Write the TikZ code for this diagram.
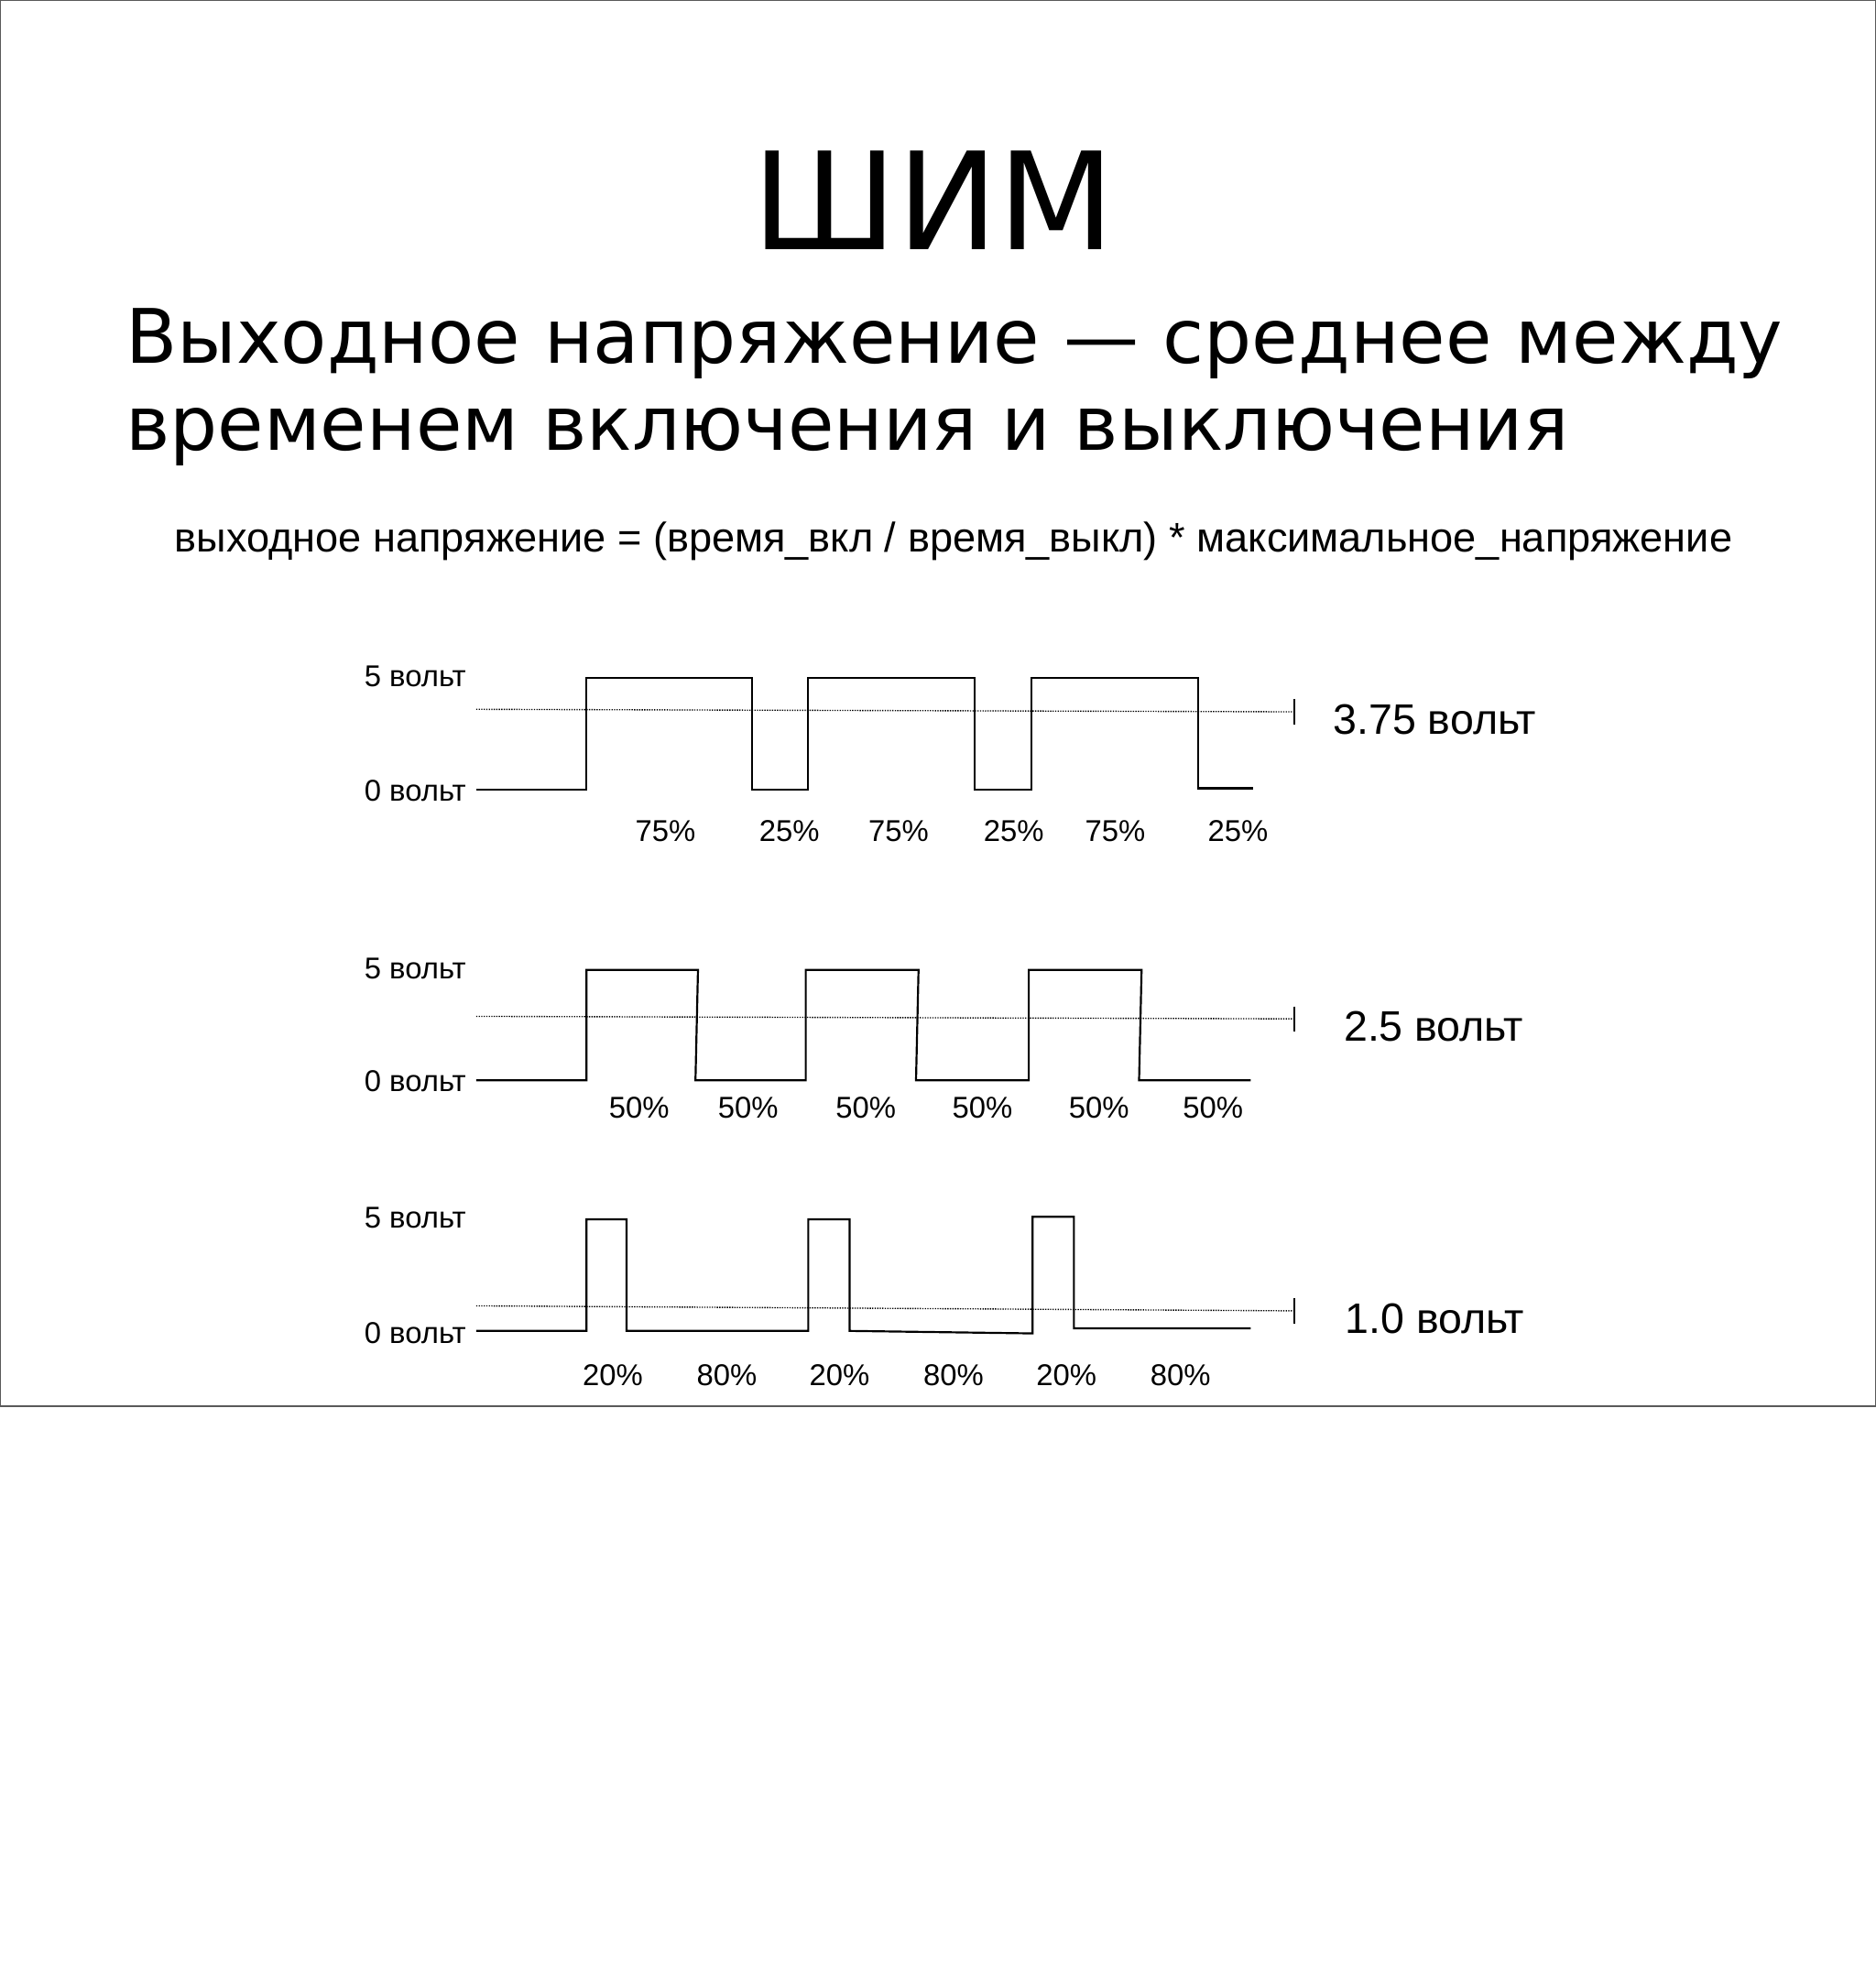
\documentclass[tikz,border=0pt]{standalone}
\usepackage{fontspec}
\setmainfont{Liberation Sans}
\newfontfamily\djvfont{DejaVu Sans}
\begin{document}
\begin{tikzpicture}[x=1pt,y=-1pt,
  wave/.style={line width=1.6pt},
  avg/.style={densely dotted,line width=1pt},
  lbl/.style={font=\fontsize{24}{28}\selectfont,inner sep=0},
  vl/.style={font=\fontsize{24}{28}\selectfont,inner sep=0,anchor=east},
  big/.style={font=\fontsize{34}{40}\selectfont,inner sep=0}]
\useasboundingbox (0,0) rectangle (1497,1568);
\draw[gray!70!black,line width=1pt] (0.5,0.5) rectangle (1496.5,1122);
\node[inner sep=0,font=\djvfont\fontsize{108}{120}\selectfont] (title) at (745,160) {ШИМ};
\node[inner sep=0,anchor=west,align=left,font=\djvfont\fontsize{60}{69}\selectfont] (sub) at (100,309) {Выходное напряжение — среднее между\\временем включения и выключения};
\node[inner sep=0,font=\fontsize{33}{38}\selectfont] (formula) at (761,432) {выходное напряжение = (время\_вкл / время\_выкл) * максимальное\_напряжение};
% plot 1
\node[vl] (h1) at (372,540) {5 вольт};
\node[vl] (l1) at (372,631) {0 вольт};
\draw[wave] (380,630) -- (468,630) -- (468,541) -- (600,541) -- (600,630) -- (645,630) -- (645,541) -- (778,541) -- (778,630) -- (823,630) -- (823,541) -- (956,541) -- (956,629) -- (1000,629);
\coordinate (a1) at (380,566); \coordinate (b1) at (1033,568);
\draw[avg] (a1) -- (b1);
\draw[line width=1pt] (1033,558) -- (1033,578);
\node[big] (v1) at (1145,574) {3.75 вольт};
\foreach \x/\t in {531/75,630/25,717/75,809/25,890/75,988/25} \node[lbl] at (\x,663) {\t\%};
% plot 2
\node[vl] (h2) at (372,773) {5 вольт};
\node[vl] (l2) at (372,863) {0 вольт};
\draw[wave] (380,862) -- (468,862) -- (468,774) -- (557,774) -- (555,862) -- (643,862) -- (643,774) -- (733,774) -- (731,862) -- (821,862) -- (821,774) -- (911,774) -- (909,862) -- (998,862);
\coordinate (a2) at (380,811); \coordinate (b2) at (1033,813);
\draw[avg] (a2) -- (b2);
\draw[line width=1pt] (1033,803) -- (1033,823);
\node[big] (v2) at (1144,819) {2.5 вольт};
\foreach \x in {510,597,691,784,877,968} \node[lbl] at (\x,884) {50\%};
% plot 3
\node[vl] (h3) at (372,972) {5 вольт};
\node[vl] (l3) at (372,1064) {0 вольт};
\draw[wave] (380,1062) -- (468,1062) -- (468,973) -- (500,973) -- (500,1062) -- (645,1062) -- (645,973) -- (678,973) -- (678,1062) -- (824,1064) -- (824,971) -- (857,971) -- (857,1060) -- (998,1060);
\coordinate (a3) at (380,1042); \coordinate (b3) at (1033,1046);
\draw[avg] (a3) -- (b3);
\draw[line width=1pt] (1033,1036) -- (1033,1056);
\node[big] (v3) at (1145,1052) {1.0 вольт};
\foreach \x/\t in {489/20,580/80,670/20,761/80,851/20,942/80} \node[lbl] at (\x,1097) {\t\%};
\end{tikzpicture}
\end{document}
